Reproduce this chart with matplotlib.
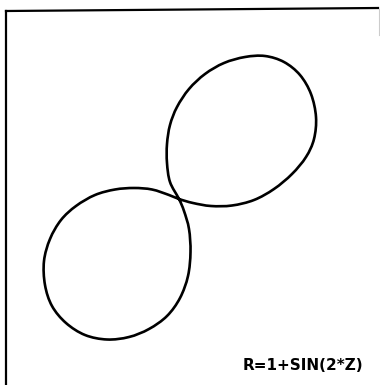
import matplotlib
matplotlib.use("Agg")
import matplotlib.pyplot as plt
from matplotlib.lines import Line2D
from matplotlib.path import Path
from matplotlib.patches import PathPatch

# Traced figure-eight curve (data units); starts and ends at the crossing point.
# Upper lobe first (up the left side, clockwise), then the lower lobe.
curve_x = [0.0, -0.09, -0.12, -0.12, -0.09, -0.02, 0.10, 0.26, 0.45, 0.66, 0.86,
           1.05, 1.21, 1.32, 1.37, 1.35, 1.27, 1.13, 0.95, 0.75, 0.53, 0.32, 0.14,
           0.0, -0.10, -0.27, -0.45, -0.64, -0.84, -1.03, -1.18, -1.29, -1.35,
           -1.34, -1.27, -1.13, -0.94, -0.72, -0.50, -0.30, -0.12, 0.01, 0.09,
           0.115, 0.10, 0.05, 0.0]
curve_y = [0.0, 0.17, 0.36, 0.55, 0.74, 0.92, 1.10, 1.25, 1.36, 1.42, 1.43,
           1.37, 1.24, 1.05, 0.82, 0.60, 0.42, 0.25, 0.10, -0.01, -0.065, -0.07, -0.04,
           0.0, 0.04, 0.095, 0.11, 0.095, 0.04, -0.07, -0.21, -0.40, -0.62,
           -0.86, -1.07, -1.24, -1.36, -1.405, -1.38, -1.30, -1.17, -0.99, -0.77,
           -0.53, -0.30, -0.12, 0.0]

label = "R=1+SIN(2*Z)"

# closed smooth path through the traced points (Catmull-Rom as cubic Beziers)
pts = list(zip(curve_x[:-1], curve_y[:-1]))
n = len(pts)
verts = [pts[0]]
codes = [Path.MOVETO]
for i in range(n):
    p0 = pts[(i - 1) % n]
    p1 = pts[i]
    p2 = pts[(i + 1) % n]
    p3 = pts[(i + 2) % n]
    c1 = (p1[0] + (p2[0] - p0[0]) / 6, p1[1] + (p2[1] - p0[1]) / 6)
    c2 = (p2[0] - (p3[0] - p1[0]) / 6, p2[1] - (p3[1] - p1[1]) / 6)
    verts += [c1, c2, p2]
    codes += [Path.CURVE4, Path.CURVE4, Path.CURVE4]

fig = plt.figure(figsize=(3.8, 3.85), dpi=100)
ax = fig.add_axes([0, 0, 1, 1])
ax.add_patch(PathPatch(Path(verts, codes), facecolor="none", edgecolor="black",
                       lw=1.9, joinstyle="round"))
ax.set_xlim(-1.79, 2.01)
ax.set_ylim(-1.86, 1.99)
ax.axis("off")

# scanned frame: left and top border, short piece at right
fig.add_artist(Line2D([6/380, 6/380], [0, 1 - 11/385], color="black", lw=1.6,
                      transform=fig.transFigure))
fig.add_artist(Line2D([6/380, 378/380], [1 - 11/385, 1 - 8/385], color="black",
                      lw=1.6, transform=fig.transFigure))
fig.add_artist(Line2D([379/380, 379/380], [1 - 9/385, 1 - 35/385], color="#cccccc",
                      lw=0.8, transform=fig.transFigure))

fig.text(363/380, 1 - 365/385, label, ha="right", va="center",
         fontsize=11, fontweight="bold", family="DejaVu Sans")

fig.savefig("out.png", dpi=100, facecolor="white")
